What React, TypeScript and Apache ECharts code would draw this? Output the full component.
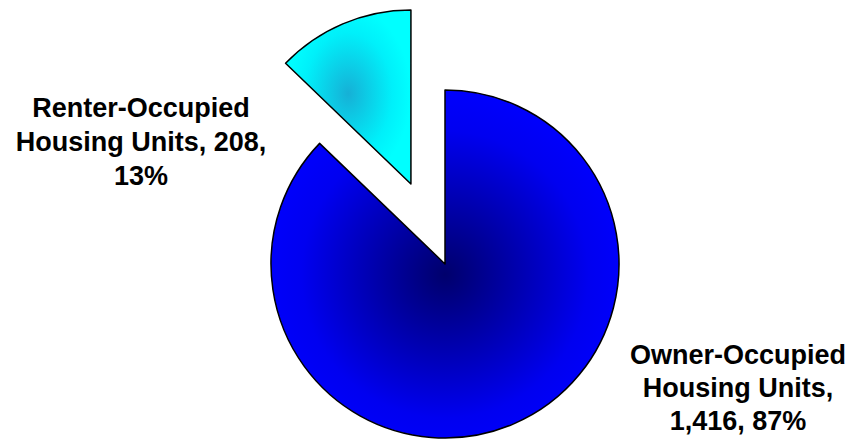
import React, { useEffect, useRef } from "react";
import * as echarts from "echarts";

const categories = ["Owner-Occupied Housing Units", "Renter-Occupied Housing Units"];
const values = [1416, 208];
const explodedIndex = 1;

export default function App() {
  const ref = useRef<HTMLDivElement>(null);
  useEffect(() => {
    if (!ref.current) return;
    const chart = echarts.init(ref.current, null, { renderer: "svg" });
    const total = values.reduce((a, b) => a + b, 0);
    const fills = [
      {
        type: "radial", x: 0.5, y: 0.53, r: 0.55,
        colorStops: [
          { offset: 0, color: "#00006c" },
          { offset: 0.75, color: "#0000f0" },
          { offset: 1, color: "#0000ff" },
        ],
      },
      {
        type: "radial", x: 0.5, y: 0.48, r: 0.5,
        colorStops: [
          { offset: 0, color: "#16b0d6" },
          { offset: 0.7, color: "#00f0fa" },
          { offset: 1, color: "#00ffff" },
        ],
      },
    ];
    const labelText = (i: number) => {
      const parts = categories[i].split(" ");
      const first = parts[0];
      const rest = parts.slice(1).join(" ");
      const pct = Math.round((values[i] / total) * 100);
      const val = values[i].toLocaleString("en-US");
      if (i === 0) return `${first}\n${rest},\n${val}, ${pct}%`;
      return `${first}\n${rest}, ${val},\n${pct}%`;
    };
    const labelPos = [
      { x: 738, y: 388 },
      { x: 141, y: 142 },
    ];
    chart.setOption({
      animation: false,
      graphic: categories.map((_, i) => ({
        type: "text",
        x: labelPos[i].x,
        y: labelPos[i].y,
        style: {
          text: labelText(i),
          fill: "#000",
          fontFamily: 'Arial, "Liberation Sans", sans-serif',
          fontWeight: "bold",
          fontSize: 27,
          lineHeight: i === 0 ? 33 : 34,
          align: "center",
          verticalAlign: "middle",
        },
      })),
      series: [
        {
          type: "pie",
          center: [445, 264],
          radius: 174,
          startAngle: 90,
          clockwise: true,
          selectedMode: "single",
          selectedOffset: 87,
          avoidLabelOverlap: false,
          emphasis: { scale: false },
          itemStyle: { borderColor: "#000", borderWidth: 1.5 },
          labelLine: { show: false },
          label: { show: false },
          data: categories.map((name, i) => ({
            name,
            value: values[i],
            selected: i === explodedIndex,
            itemStyle: { color: fills[i] },
          })),
        },
      ],
    });
    return () => chart.dispose();
  }, []);
  return (
    <div
      ref={ref}
      style={{ position: "fixed", left: 0, top: 0, width: 854, height: 439, background: "#fff" }}
    />
  );
}
